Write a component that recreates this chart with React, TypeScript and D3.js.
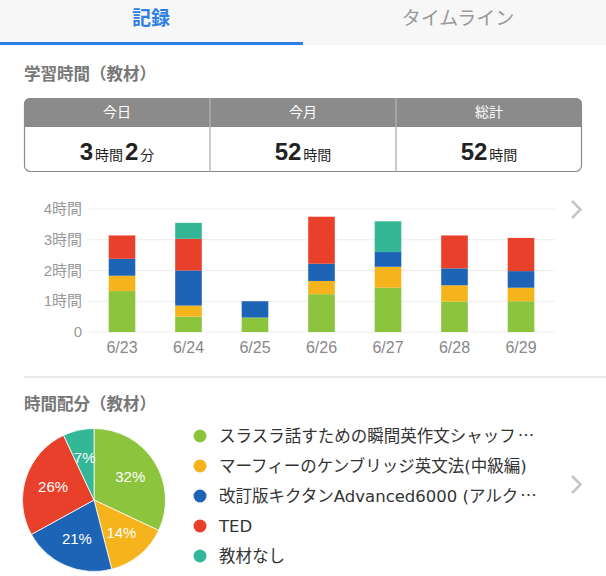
import React from "react";
import * as d3 from "d3";

const days = ["6/23", "6/24", "6/25", "6/26", "6/27", "6/28", "6/29"];
const seriesKeys = ["shunkan", "murphy", "kikutan", "ted", "none"];
const seriesNames = [
  "スラスラ話すための瞬間英作文シャッフ…",
  "マーフィーのケンブリッジ英文法(中級編)",
  "改訂版キクタンAdvanced6000 (アルク…",
  "TED",
  "教材なし",
];
const seriesColors = ["#8cc43e", "#f5b41c", "#1d63b6", "#e8402b", "#33b796"];
// hours per day per series
const shunkan = [1.33, 0.5, 0.47, 1.23, 1.44, 0.99, 1.0];
const murphy = [0.5, 0.36, 0, 0.43, 0.68, 0.53, 0.44];
const kikutan = [0.55, 1.14, 0.53, 0.56, 0.48, 0.55, 0.54];
const ted = [0.76, 1.03, 0, 1.53, 0, 1.07, 1.08];
const none = [0, 0.52, 0, 0, 1.0, 0, 0];
const yTicks = [0, 1, 2, 3, 4];
const yTickLabels = ["0", "1時間", "2時間", "3時間", "4時間"];
const piePercents = [32, 14, 21, 26, 7];
const summaryHeaders = ["今日", "今月", "総計"];
const summaryValues: [string, string][][] = [
  [["3", "時間"], ["2", "分"]],
  [["52", "時間"]],
  [["52", "時間"]],
];
const tabs = ["記録", "タイムライン"];

const FONT = "'Liberation Sans', 'Noto Sans CJK JP', sans-serif";
const LEGEND_FONT = "'DejaVu Sans', 'Noto Sans CJK JP', sans-serif";
const CJK_FONT = "'Noto Sans CJK JP', sans-serif";

export default function App() {
  const W = 606, H = 576;
  const rows = days.map((d, i) => ({
    day: d,
    shunkan: shunkan[i],
    murphy: murphy[i],
    kikutan: kikutan[i],
    ted: ted[i],
    none: none[i],
  }));
  const stacked = d3.stack<any>().keys(seriesKeys)(rows);
  const x = d3.scaleBand().domain(days).range([88.75, 554.25]).paddingInner(0.6).paddingOuter(0.3);
  const y = d3.scaleLinear().domain([0, 4]).range([332, 209]);

  const pie = d3.pie<number>().sort(null).value((v) => v)(piePercents);
  const arc = d3.arc<any>().innerRadius(0).outerRadius(71.5);
  const labelArc = d3.arc<any>().innerRadius(43).outerRadius(43);
  const pcx = 94, pcy = 500;

  const tableX = 24, tableW = 558, colW = tableW / 3;
  const tableTop = 98, headBottom = 127, tableBottom = 172;

  return (
    <svg
      width={W}
      height={H}
      style={{ position: "absolute", left: 0, top: 0, background: "#fff" }}
      fontFamily={FONT}
    >
      {/* tab bar */}
      <rect x={0} y={0} width={W} height={45} fill="#f7f7f7" />
      <rect x={0} y={42} width={303} height={3} fill="#2f7fe6" />
      <text x={151} y={25} textAnchor="middle" fontSize={19} fontWeight={700} fill="#2f7fe6">
        {tabs[0]}
      </text>
      <text x={458} y={25} textAnchor="middle" fontSize={19} fill="#999">
        {tabs[1]}
      </text>

      {/* section title */}
      <text x={24} y={80} fontSize={16.5} fontWeight={700} fill="#777">
        学習時間（教材）
      </text>

      {/* summary table */}
      <clipPath id="tclip">
        <rect x={tableX} y={tableTop} width={tableW} height={tableBottom - tableTop} rx={6} />
      </clipPath>
      <g clipPath="url(#tclip)">
        <rect x={tableX} y={tableTop} width={tableW} height={headBottom - tableTop} fill="#8b8b8b" />
        <rect x={tableX} y={headBottom} width={tableW} height={tableBottom - headBottom} fill="#fff" />
      </g>
      <rect
        x={tableX + 0.5}
        y={tableTop + 0.5}
        width={tableW - 1}
        height={tableBottom - tableTop - 1}
        rx={6}
        fill="none"
        stroke="#8b8b8b"
        strokeWidth={1.2}
      />
      {[1, 2].map((i) => (
        <g key={i}>
          <line x1={tableX + colW * i} x2={tableX + colW * i} y1={tableTop} y2={headBottom} stroke="#bdbdbd" strokeWidth={1} />
          <line x1={tableX + colW * i} x2={tableX + colW * i} y1={headBottom} y2={tableBottom} stroke="#999" strokeWidth={1} />
        </g>
      ))}
      {summaryHeaders.map((h, i) => (
        <text key={h} x={tableX + colW * (i + 0.5)} y={117} textAnchor="middle" fontSize={14} fill="#fff">
          {h}
        </text>
      ))}
      {summaryValues.map((parts, i) => (
        <text key={i} x={tableX + colW * (i + 0.5)} y={160} textAnchor="middle" fill="#222">
          {parts.map(([num, unit], j) => (
            <React.Fragment key={j}>
              <tspan fontSize={24} fontWeight={700} dx={j > 0 ? 2 : 0}>
                {num}
              </tspan>
              <tspan fontSize={14} dx={2}>
                {unit}
              </tspan>
            </React.Fragment>
          ))}
        </text>
      ))}

      {/* bar chart */}
      {yTicks.map((t, i) => (
        <g key={t}>
          <line x1={89} x2={555} y1={y(t)} y2={y(t)} stroke="#ececec" strokeWidth={1} />
          <text x={82} y={y(t) + 5} textAnchor="end" fontSize={15} fill="#999">
            {yTickLabels[i]}
          </text>
        </g>
      ))}
      {stacked.map((s, si) => (
        <g key={s.key} fill={seriesColors[si]}>
          {s.map((d, di) =>
            d[1] - d[0] > 0 ? (
              <rect
                key={di}
                x={x(days[di])!}
                width={x.bandwidth()}
                y={y(d[1])}
                height={y(d[0]) - y(d[1])}
              />
            ) : null
          )}
        </g>
      ))}
      {days.map((d) => (
        <text key={d} x={x(d)! + x.bandwidth() / 2} y={353} textAnchor="middle" fontSize={16} fill="#888">
          {d}
        </text>
      ))}
      <path d="M572,201 L580.5,209.5 L572,218" fill="none" stroke="#c4c4c4" strokeWidth={2.5} />

      {/* separator */}
      <line x1={24} x2={W} y1={377} y2={377} stroke="#e2e2e2" strokeWidth={1.5} />

      {/* pie section */}
      <text x={24} y={410} fontSize={16.5} fontWeight={700} fill="#777">
        時間配分（教材）
      </text>
      <g transform={`translate(${pcx},${pcy})`}>
        {pie.map((p, i) => (
          <path key={i} d={arc(p)!} fill={seriesColors[i]} stroke="#fff" strokeWidth={0.8} />
        ))}
        {pie.map((p, i) => {
          const [lx, ly] = labelArc.centroid(p);
          return (
            <text key={"l" + i} x={lx} y={ly + 5} textAnchor="middle" fontSize={15} fill="#fff">
              {piePercents[i]}%
            </text>
          );
        })}
      </g>
      {seriesNames.map((n, i) => {
        const cy = 436 + i * 30;
        const trunc = n.endsWith("…");
        const body = trunc ? n.slice(0, -1) : n;
        return (
          <g key={n}>
            <circle cx={200} cy={cy} r={6.5} fill={seriesColors[i]} />
            <text x={219} y={cy + 6} fontSize={16.5} fill="#333" fontFamily={LEGEND_FONT}>
              {body}
              {trunc ? <tspan fontFamily={CJK_FONT} dx={2}>…</tspan> : null}
            </text>
          </g>
        );
      })}
      <path d="M572,476 L580.5,484.5 L572,493" fill="none" stroke="#c4c4c4" strokeWidth={2.5} />
    </svg>
  );
}
